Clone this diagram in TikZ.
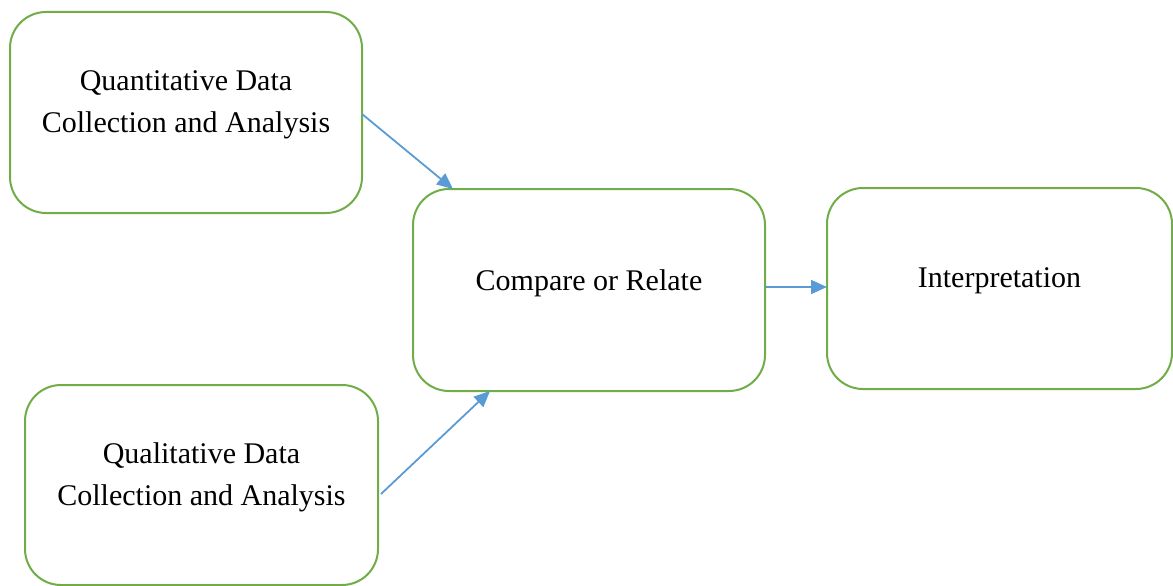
\documentclass[tikz,border=0pt]{standalone}
\usepackage{fontspec}
\setmainfont{Liberation Serif}
\usetikzlibrary{arrows.meta}
\definecolor{boxgreen}{RGB}{112,173,71}
\definecolor{arrowblue}{RGB}{91,155,213}
\begin{document}
\begin{tikzpicture}[x=1pt,y=-1pt,
  stagebox/.style={draw=boxgreen, line width=2pt, rounded corners=36pt,
    rectangle, inner sep=0pt, outer sep=0pt},
  stagetext/.style={font=\fontsize{30}{42}\selectfont, align=center, inner sep=0pt},
  flow/.style={draw=arrowblue, line width=1.8pt,
    -{Triangle[length=16pt,width=14pt]}}]
  \useasboundingbox (0,0) rectangle (1173,586);

  % stage boxes
  \node[stagebox, minimum width=352pt, minimum height=201pt] (quant) at (186,112.5) {};
  \node[stagebox, minimum width=353pt, minimum height=200pt] (qual) at (201.5,485) {};
  \node[stagebox, minimum width=352pt, minimum height=202pt] (comp) at (589,290) {};
  \node[stagebox, minimum width=345pt, minimum height=201pt] (interp) at (999.5,288.5) {};

  % box captions, set a little above centre
  \node[stagetext] (quanttext) at ([yshift=8pt]quant.center) {Quantitative Data\\Collection and Analysis};
  \node[stagetext] (qualtext) at ([yshift=8pt]qual.center) {Qualitative Data\\Collection and Analysis};
  \node[stagetext] (comptext) at ([yshift=7pt]comp.center) {Compare or Relate};
  \node[stagetext] (interptext) at ([yshift=8pt]interp.center) {Interpretation};

  % connectors
  \draw[flow] ([yshift=-1.5pt]quant.east) -- ([xshift=40pt]comp.north west);
  \draw[flow] ([xshift=3pt,yshift=-9pt]qual.east) -- ([xshift=77pt]comp.south west);
  \draw[flow] ([xshift=1pt,yshift=3pt]comp.east) -- ([yshift=1.5pt]interp.west);
\end{tikzpicture}
\end{document}
